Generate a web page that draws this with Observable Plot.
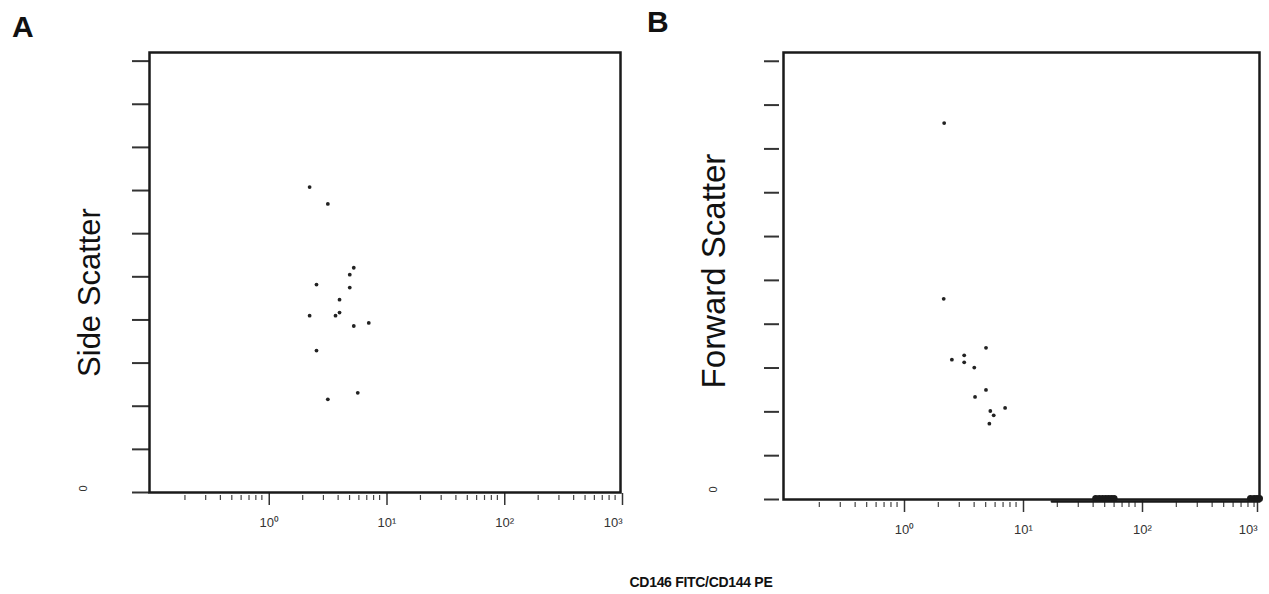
<!DOCTYPE html>
<html><head><meta charset="utf-8">
<script src="https://cdn.jsdelivr.net/npm/d3@7"></script>
<script src="https://cdn.jsdelivr.net/npm/@observablehq/plot@0.6"></script>
<style>
body{margin:0;background:#fff;font-family:"Liberation Sans",Arial,sans-serif;}
#wrap{position:relative;width:1269px;height:594px;overflow:hidden;}
.panel{position:absolute;top:0;}
#a{left:0}
#b{left:640px}
.tag{position:absolute;font-weight:bold;font-size:30px;color:#111;line-height:1;}
#caption{position:absolute;top:574px;left:551px;width:300px;text-align:center;font-weight:bold;font-size:14px;color:#111;letter-spacing:-0.3px;}
</style>
</head><body>
<div id="wrap">
  <div class="panel" id="a"></div>
  <div class="panel" id="b"></div>
  <div class="tag" id="tagA" style="left:12px;top:12px"></div>
  <div class="tag" id="tagB" style="left:647px;top:7px"></div>
  <div id="caption"></div>
</div>
<script>
// ---- data ----
const panelLabels = ["A", "B"];
const yTitles = ["Side Scatter", "Forward Scatter"];
const xTitle = "CD146 FITC/CD144 PE";
const xMajorTicks = [1, 10, 100, 1000];
const xTickLabels = ["10\u2070", "10\u00b9", "10\u00b2", "10\u00b3"];
const xMinorTicks = [0.2,0.3,0.4,0.5,0.6,0.7,0.8,0.9, 2,3,4,5,6,7,8,9, 20,30,40,50,60,70,80,90, 200,300,400,500,600,700,800,900];
const yTicks = [0,100,200,300,400,500,600,700,800,900,1000];
const yZeroLabel = [0];

// Panel A: CD146 FITC vs side scatter
const aX = [2.29, 3.27, 5.43, 5.02, 2.62, 5.02, 4.11, 4.11, 3.80, 2.29, 5.43, 7.28, 2.62, 5.87, 3.27];
const aY = [708, 669, 521, 505, 482, 475, 447, 417, 410, 410, 386, 393, 329, 231, 216];

// Panel B: CD144 PE vs forward scatter
const bX = [2.24, 2.22, 5.03, 2.60, 3.30, 3.30, 4.01, 5.03, 4.07, 7.28, 5.47, 5.84, 5.37];
const bY = [859, 458, 346, 319, 329, 313, 301, 250, 234, 209, 202, 192, 173];

// Panel B: events piled up at forward scatter 0
const bBaseX = [18, 1000];
const bClusterX = [42, 45, 48, 51, 54, 57, 60];
const bEdgeX = [840, 900, 950, 1000];

// ---- build ----
const aPts = aX.map((x, i) => ({x, y: aY[i]}));
const bPts = bX.map((x, i) => ({x, y: bY[i]}));
const ink = "#1a1a1a";
const lastTick = xMajorTicks.slice(-1);
const innerTicks = xMajorTicks.slice(0, -1);
const fmt = d => xTickLabels[xMajorTicks.indexOf(d)];

function panel(opts) {
  const {width, height, marginLeft, marginRight, marginTop, marginBottom, pts, title, titleDx, titleDy, zeroDx, zeroDy, tickDx, tickSize, extra, titleSize, lastDx} = opts;
  return Plot.plot({
    width, height, marginLeft, marginRight, marginTop, marginBottom,
    style: {fontFamily: "Liberation Sans, Arial, sans-serif", background: "transparent", overflow: "visible"},
    x: {type: "log", domain: [0.1, 1000], axis: null, label: null},
    y: {domain: [0, 1020], axis: null, label: null},
    marks: [
      Plot.axisY(yTicks, {anchor: "left", tickSize, tickFormat: () => "", stroke: "#333", strokeWidth: 2, dx: tickDx, label: null}),
      Plot.axisX(xMinorTicks, {anchor: "bottom", tickSize: 5, tickFormat: () => "", stroke: "#444", strokeWidth: 1.2, dy: 3, label: null}),
      Plot.axisX(innerTicks, {anchor: "bottom", tickSize: 12, tickPadding: 12, tickFormat: fmt, stroke: "#333", strokeWidth: 1.5, fontSize: 13, fill: "#333", dy: 1, dx: 2, label: null}),
      Plot.axisX(lastTick, {anchor: "bottom", tickSize: 12, tickPadding: 12, tickFormat: fmt, stroke: "#333", strokeWidth: 1.5, fontSize: 13, fill: "#333", dy: 1, dx: lastDx, textAnchor: "end", label: null}),
      Plot.text(yZeroLabel, {y: d => d, frameAnchor: "left", dx: zeroDx, dy: zeroDy, rotate: -90, text: () => "0", fontSize: 11, fill: "#333"}),
      Plot.text([title], {frameAnchor: "left", dx: titleDx, dy: titleDy, rotate: -90, text: d => d, fontSize: titleSize, fill: "#111", textAnchor: "middle"}),
      ...(extra || []),
      Plot.dot(pts, {x: "x", y: "y", r: 1.9, fill: "#222", stroke: null}),
      Plot.frame({stroke: ink, strokeWidth: 2.5})
    ]
  });
}

document.getElementById("a").append(panel({
  width: 640, height: 560, marginLeft: 149, marginRight: 20, marginTop: 52, marginBottom: 68,
  pts: aPts, title: yTitles[0], titleDx: -59, titleDy: 20, titleSize: 31,
  zeroDx: -66, zeroDy: -1, tickDx: 0, tickSize: 17, lastDx: 2
}));

document.getElementById("b").append(panel({
  width: 629, height: 560, marginLeft: 143, marginRight: 10, marginTop: 52, marginBottom: 61,
  pts: bPts, title: yTitles[1], titleDx: -69, titleDy: -5, titleSize: 33,
  zeroDx: -70, zeroDy: -7, tickDx: -4, tickSize: 15, lastDx: -2,
  extra: [
    Plot.line(bBaseX.map(x => ({x, y: 0})), {x: "x", y: "y", stroke: ink, strokeWidth: 2.5, dy: 2}),
    Plot.dot(bClusterX, {x: d => d, y: () => 0, r: 3.5, fill: ink, dy: -1}),
    Plot.dot(bEdgeX, {x: d => d, y: () => 0, r: 3.5, fill: ink, dy: -1})
  ]
}));

document.getElementById("tagA").textContent = panelLabels[0];
document.getElementById("tagB").textContent = panelLabels[1];
document.getElementById("caption").textContent = xTitle;
</script>
</body></html>
